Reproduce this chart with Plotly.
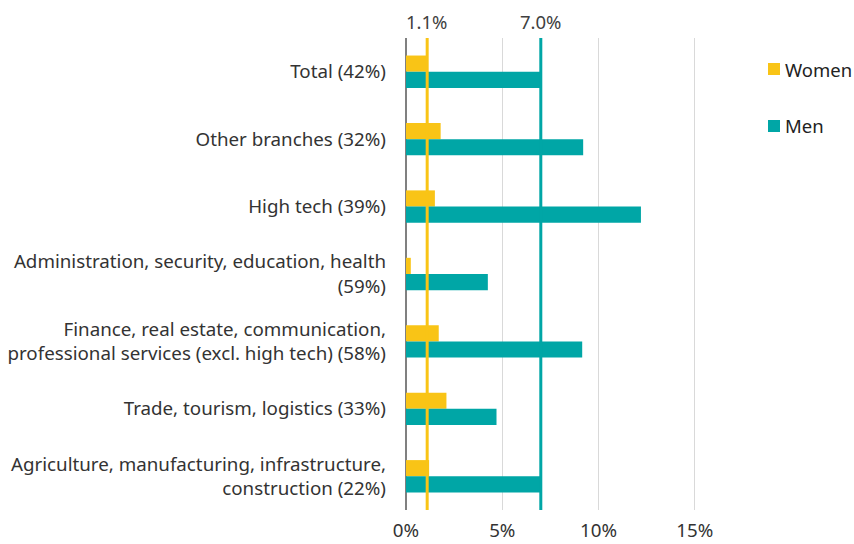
import plotly.graph_objects as go

categories = [
    "Total (42%)",
    "Other branches (32%)",
    "High tech (39%)",
    "Administration, security, education, health<br>(59%)",
    "Finance, real estate, communication,<br>professional services (excl. high tech) (58%)",
    "Trade, tourism, logistics (33%)",
    "Agriculture, manufacturing, infrastructure,<br>construction (22%)",
]
women = [1.1, 1.8, 1.5, 0.25, 1.7, 2.1, 1.2]
men = [7.0, 9.2, 12.2, 4.25, 9.15, 4.7, 7.05]
women_avg = 1.1
men_avg = 7.0

YELLOW = "#F9C416"
TEAL = "#00A6A6"
FONT = "Noto Sans"

W, H = 854, 544
ML, MR, MT, MB = 406, 111, 38, 34
PW, PH = W - ML - MR, H - MT - MB

fig = go.Figure()
fig.add_trace(go.Bar(y=categories, x=women, name="Women", orientation="h",
                     marker=dict(color=YELLOW, line=dict(width=0)), showlegend=False))
fig.add_trace(go.Bar(y=categories, x=men, name="Men", orientation="h",
                     marker=dict(color=TEAL, line=dict(width=0)), showlegend=False))

# average reference lines
for val, col in [(women_avg, YELLOW), (men_avg, TEAL)]:
    fig.add_shape(type="line", xref="x", yref="paper", x0=val, x1=val, y0=0, y1=1,
                  line=dict(color=col, width=3), layer="above")
    fig.add_annotation(x=val, y=1, xref="x", yref="paper", yshift=2,
                       text=f"{val:.1f}%", showarrow=False, yanchor="bottom",
                       font=dict(family=FONT, size=18.5, color="#404040"))

# hand-placed legend (square + label), positions in pixels from figure top-left
def px_x(p):
    return (p - ML) / PW

def px_y(p):
    return (H - MB - p) / PH

for name, col, cy in [("Women", YELLOW, 69), ("Men", TEAL, 126)]:
    fig.add_shape(type="rect", xref="paper", yref="paper",
                  x0=px_x(768), x1=px_x(780), y0=px_y(cy + 6), y1=px_y(cy - 6),
                  fillcolor=col, line=dict(width=0))
    fig.add_annotation(x=px_x(783), y=px_y(cy), xref="paper", yref="paper",
                       text=name, showarrow=False, xanchor="left", yanchor="middle",
                       font=dict(family=FONT, size=18.5, color="#222222"))

fig.update_layout(
    width=W, height=H,
    margin=dict(l=ML, r=MR, t=MT, b=MB),
    paper_bgcolor="white", plot_bgcolor="white",
    barmode="group", bargap=0.52, bargroupgap=0,
    font=dict(family=FONT, size=18.75, color="#333333"),
    showlegend=False,
    xaxis=dict(range=[0, 17.5], tickvals=[0, 5, 10, 15],
               ticktext=["0%", "5%", "10%", "15%"],
               showgrid=True, gridcolor="#D9D9D9", gridwidth=1,
               zeroline=True, zerolinecolor="#808080", zerolinewidth=1.5,
               showline=False, ticks="", ticklabelstandoff=7, automargin=False),
    yaxis=dict(autorange="reversed", showgrid=False, ticks="",
               ticklabelstandoff=19, automargin=False),
)

# drop the default 8px page margin so the figure fills the window exactly
fig.write_html("out.html", config={"displayModeBar": False},
               post_script="document.body.style.margin='0';document.body.style.overflow='hidden';")
